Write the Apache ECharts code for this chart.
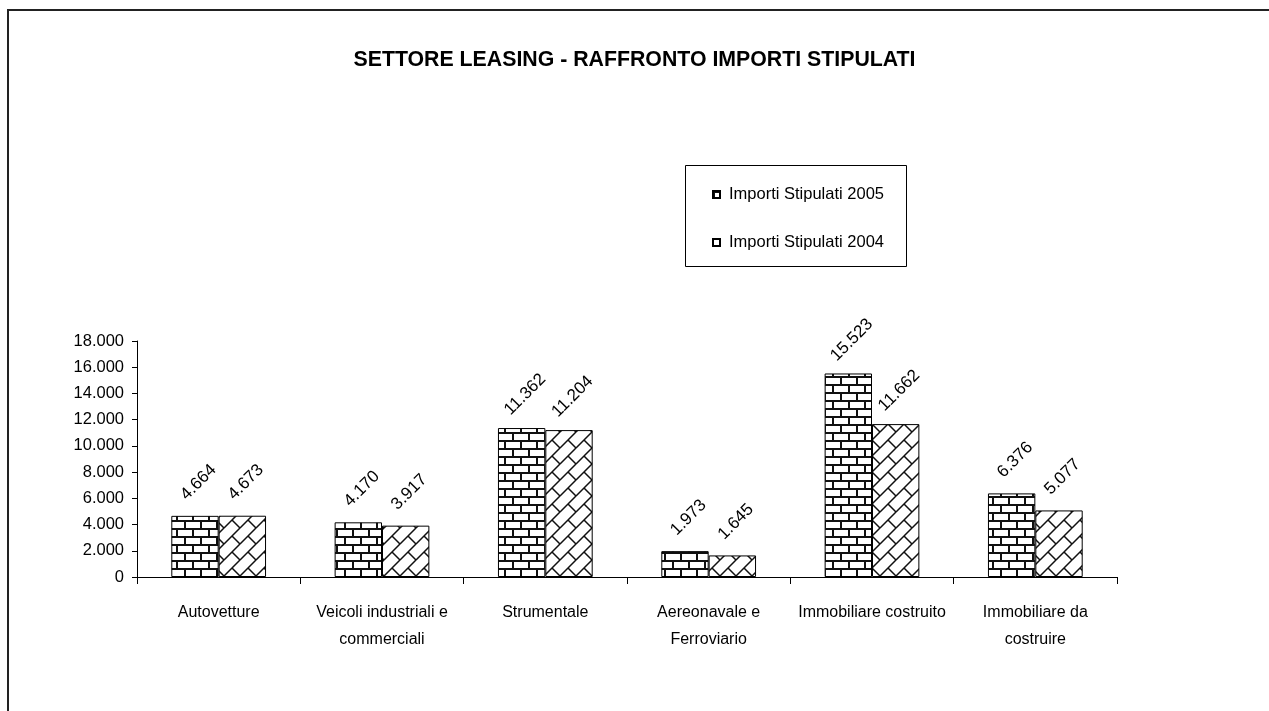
<!DOCTYPE html>
<html>
<head>
<meta charset="utf-8">
<title>Settore leasing</title>
<script src="https://cdn.jsdelivr.net/npm/echarts@6/dist/echarts.min.js"></script>
<style>
  html, body { margin: 0; padding: 0; background: #fff; }
  #chart { width: 1269px; height: 711px; }
</style>
</head>
<body>
<div id="chart"></div>
<script>
  // dati
  var categorie = ['Autovetture', 'Veicoli industriali e\ncommerciali', 'Strumentale',
                   'Aereonavale e\nFerroviario', 'Immobiliare costruito', 'Immobiliare da\ncostruire'];
  var importi2005 = [4664, 4170, 11362, 1973, 15523, 6376];
  var importi2004 = [4673, 3917, 11204, 1645, 11662, 5077];
  var nomiSerie = ['Importi Stipulati 2005', 'Importi Stipulati 2004'];

  var FONT = "'Liberation Sans', Arial, sans-serif";

  // mattoni orizzontali (pattern 8x8 stile Excel, scalato x2)
  function makeBrick() {
    var bits = ['11111111', '10000000', '10000000', '10000000',
                '11111111', '00001000', '00001000', '00001000'];
    var s = 2;
    var c = document.createElement('canvas');
    c.width = 8 * s; c.height = 8 * s;
    var ctx = c.getContext('2d');
    ctx.fillStyle = '#fff';
    ctx.fillRect(0, 0, c.width, c.height);
    ctx.fillStyle = '#111';
    for (var r = 0; r < 8; r++) {
      for (var k = 0; k < 8; k++) {
        if (bits[r].charAt(k) === '1') ctx.fillRect(k * s, r * s, s, s);
      }
    }
    return c;
  }

  // mattoni diagonali: linee "/" lunghe e tratti "\" corti
  function makeDiag() {
    var n = 16;
    var c = document.createElement('canvas');
    c.width = n; c.height = n;
    var ctx = c.getContext('2d');
    ctx.fillStyle = '#fff';
    ctx.fillRect(0, 0, n, n);
    ctx.strokeStyle = '#111';
    ctx.lineWidth = 1.5;
    for (var dx = -n; dx <= n; dx += n) {
      for (var dy = -n; dy <= n; dy += n) {
        ctx.beginPath();
        ctx.moveTo(n + dx, 0 + dy);
        ctx.lineTo(0 + dx, n + dy);
        ctx.moveTo(n / 2 + dx, n / 2 + dy);
        ctx.lineTo(n + dx, n + dy);
        ctx.stroke();
      }
    }
    return c;
  }

  function puntini(v) {
    if (v < 1000) return String(v);
    var s = String(v);
    return s.slice(0, s.length - 3) + '.' + s.slice(s.length - 3);
  }

  var brick = makeBrick();
  var diag = makeDiag();

  var myChart = echarts.init(document.getElementById('chart'), null, { renderer: 'canvas' });

  var labelCfg = {
    show: true,
    position: 'top',
    distance: 30,
    offset: [5, 0],
    rotate: 45,
    align: 'center',
    verticalAlign: 'middle',
    color: '#000',
    fontFamily: FONT,
    fontSize: 17,
    formatter: function (p) { return puntini(p.value); }
  };

  var option = {
    backgroundColor: '#fff',
    animation: false,
    title: {
      text: 'SETTORE LEASING - RAFFRONTO IMPORTI STIPULATI',
      left: 'center',
      top: 45,
      textStyle: { fontFamily: FONT, fontSize: 21.3, fontWeight: 'bold', color: '#000' }
    },
    graphic: [
      // cornice esterna
      { type: 'polyline', shape: { points: [[8, 711], [8, 10], [1269, 10]] },
        style: { stroke: '#222', lineWidth: 2, fill: null } },
      // riquadro legenda
      { type: 'rect', shape: { x: 685.5, y: 165.5, width: 221, height: 101 },
        style: { stroke: '#000', lineWidth: 1, fill: '#fff' }, z: 0 }
    ],
    legend: {
      orient: 'vertical',
      left: 707,
      top: 181,
      itemGap: 31,
      itemWidth: 7,
      itemHeight: 7,
      icon: 'rect',
      z: 5,
      textStyle: { fontFamily: FONT, fontSize: 16.5, color: '#000', padding: [0, 0, 0, 4] },
      data: nomiSerie
    },
    grid: { left: 137, right: 152, top: 341, bottom: 134 },
    xAxis: {
      type: 'category',
      data: categorie,
      axisLine: { lineStyle: { color: '#000', width: 1 } },
      axisTick: { show: true, length: 7, lineStyle: { color: '#000' } },
      axisLabel: { color: '#000', fontFamily: FONT, fontSize: 16, lineHeight: 27, margin: 22, interval: 0 },
      splitLine: { show: false }
    },
    yAxis: {
      type: 'value',
      min: 0,
      max: 18000,
      interval: 2000,
      axisLine: { show: true, lineStyle: { color: '#000', width: 1 } },
      axisTick: { show: true, length: 5, lineStyle: { color: '#000' } },
      axisLabel: { color: '#000', fontFamily: FONT, fontSize: 16.5, margin: 13,
                   formatter: function (v) { return puntini(v); } },
      splitLine: { show: false }
    },
    series: [
      {
        name: nomiSerie[0],
        type: 'bar',
        data: importi2005,
        barGap: '0%',
        barCategoryGap: '42%',
        itemStyle: { color: { image: brick, repeat: 'repeat' }, borderColor: '#000', borderWidth: 1 },
        label: labelCfg
      },
      {
        name: nomiSerie[1],
        type: 'bar',
        data: importi2004,
        barGap: '0%',
        barCategoryGap: '42%',
        itemStyle: { color: { image: diag, repeat: 'repeat' }, borderColor: '#000', borderWidth: 1 },
        label: labelCfg
      }
    ]
  };

  myChart.setOption(option);
</script>
</body>
</html>
